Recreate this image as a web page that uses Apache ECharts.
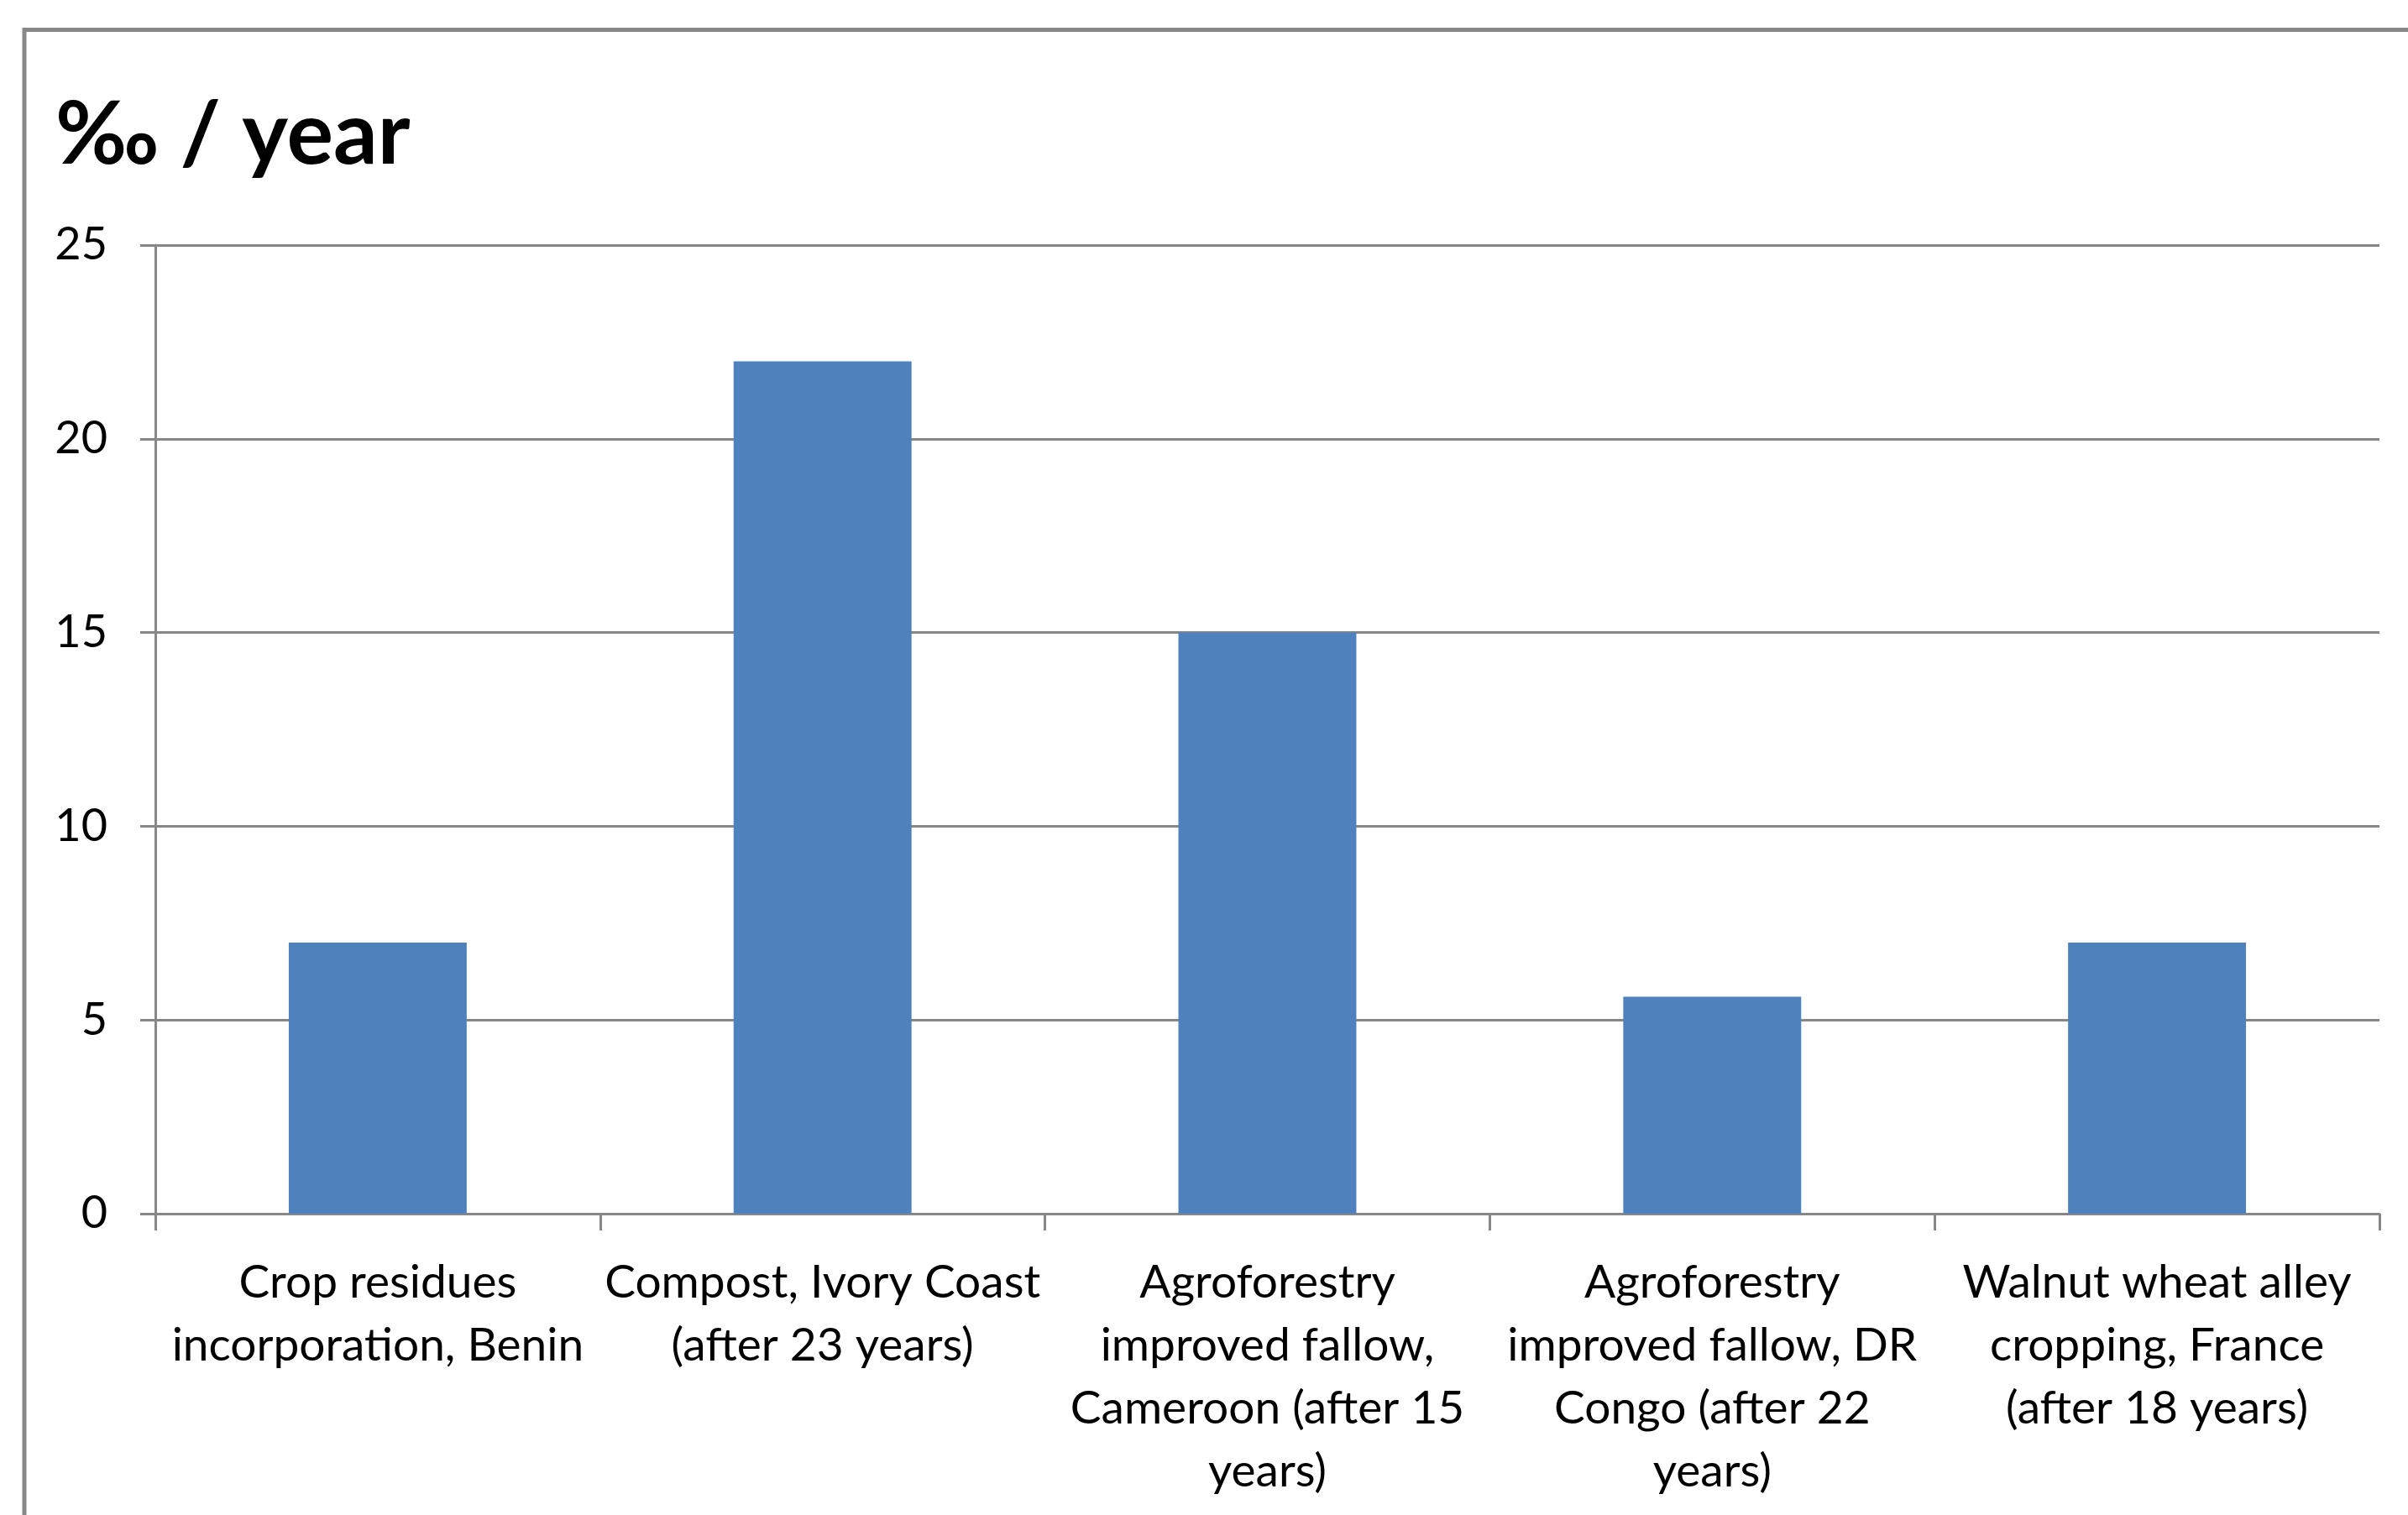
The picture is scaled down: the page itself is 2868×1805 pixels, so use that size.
<!DOCTYPE html>
<html>
<head>
<meta charset="utf-8">
<title>Soil carbon storage rate</title>
<script src="https://cdn.jsdelivr.net/npm/echarts@6/dist/echarts.min.js"></script>
<style>
  html, body { margin: 0; padding: 0; background: #ffffff; }
  #chart { width: 2868px; height: 1805px; }
</style>
</head>
<body>
<div id="chart"></div>
<script>
// Annual soil organic carbon increase per practice (per mille per year)
const categories = [
  'Crop residues\nincorporation, Benin',
  'Compost, Ivory Coast\n(after 23 years)',
  'Agroforestry\nimproved fallow,\nCameroon (after 15\nyears)',
  'Agroforestry\nimproved fallow, DR\nCongo (after 22\nyears)',
  'Walnut wheat alley\ncropping, France\n(after 18 years)'
];
const rates = [7, 22, 15, 5.6, 7];
const yTicks = { min: 0, max: 25, step: 5 };
const titleText = '‰ / year';

const FONT = 'Lato, "Open Sans", "Liberation Sans", sans-serif';
const GRAY = '#878787';

const chart = echarts.init(document.getElementById('chart'), null, { renderer: 'canvas' });

chart.setOption({
  backgroundColor: '#ffffff',
  animation: false,
  graphic: [
    {
      // chart frame (left and top edges visible)
      type: 'rect',
      shape: { x: 29, y: 35.5, width: 4000, height: 4000 },
      style: { fill: 'none', stroke: GRAY, lineWidth: 5 },
      silent: true,
      z: -1
    }
  ],
  title: {
    text: titleText,
    left: 61,
    top: 104,
    textStyle: {
      fontFamily: FONT,
      fontWeight: 'bold',
      fontSize: 104,
      color: '#000000'
    }
  },
  grid: {
    left: 185,
    right: 34,
    top: 292,
    bottom: 359,
    containLabel: false
  },
  xAxis: {
    type: 'category',
    data: categories,
    boundaryGap: true,
    axisLine: { show: true, lineStyle: { color: GRAY, width: 3 } },
    axisTick: { show: true, alignWithLabel: false, length: 20, lineStyle: { color: GRAY, width: 3 } },
    axisLabel: {
      interval: 0,
      margin: 45,
      color: '#000000',
      fontFamily: FONT,
      fontSize: 55,
      lineHeight: 75,
      align: 'center'
    },
    splitLine: { show: false }
  },
  yAxis: {
    type: 'value',
    min: yTicks.min,
    max: yTicks.max,
    interval: yTicks.step,
    axisLine: { show: true, lineStyle: { color: GRAY, width: 3 } },
    axisTick: { show: true, length: 18, lineStyle: { color: GRAY, width: 3 } },
    axisLabel: {
      margin: 57,
      color: '#000000',
      fontFamily: FONT,
      fontSize: 54
    },
    splitLine: { show: true, lineStyle: { color: GRAY, width: 3 } }
  },
  series: [
    {
      type: 'bar',
      data: rates,
      barCategoryGap: '60%',
      itemStyle: { color: '#4F81BD' },
      z: 3
    }
  ]
});
</script>
</body>
</html>
